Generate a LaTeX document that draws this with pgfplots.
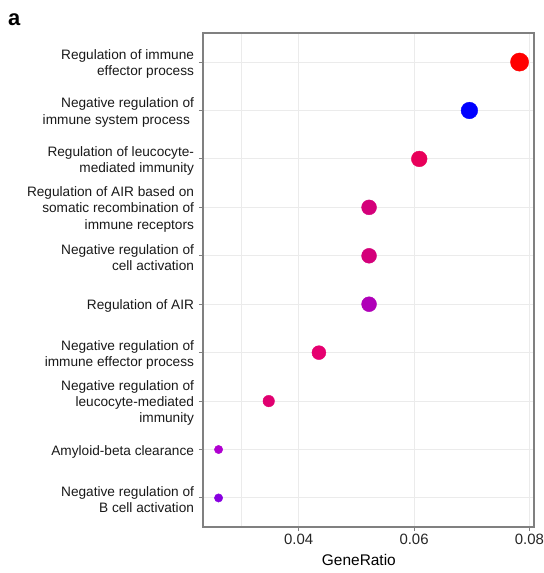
\documentclass[border=0pt]{standalone}
\usepackage{pgfplots}
\pgfplotsset{compat=1.18}
\usepackage{fontspec}
\setmainfont{Liberation Sans}
\definecolor{gridc}{RGB}{235,235,235}
\definecolor{framec}{RGB}{128,128,128}
\begin{document}
\begin{tikzpicture}
\path[use as bounding box] (-203bp,-46bp) rectangle (341bp,527bp);
\node[anchor=base west, font=\fontsize{22}{24}\selectfont\bfseries, inner sep=0pt] at (-195bp,501bp) {a};
\begin{axis}[
  at={(0,0)}, anchor=south west,
  scale only axis, width=331bp, height=494bp,
  xmin=0.0234, xmax=0.0808, ymin=0.4, ymax=10.6,
  y dir=reverse,
  scaled x ticks=false,
  xtick={0.04,0.06,0.08}, xticklabels={0.04,0.06,0.08},
  minor xtick={0.03},
  ytick={1,2,3,4,5,6,7,8,9,10},
  yticklabels={
    {Regulation of immune\\effector process},
    {Negative regulation of\\immune system process\hspace*{0.3em}},
    {Regulation of leucocyte-\\mediated immunity},
    {Regulation of AIR based on\\somatic recombination of\\immune receptors},
    {Negative regulation of\\cell activation},
    {Regulation of AIR},
    {Negative regulation of\\immune effector process},
    {Negative regulation of\\leucocyte-mediated\\immunity},
    {Amyloid-beta clearance},
    {Negative regulation of\\B cell activation}},
  yticklabel style={align=right, font=\fontsize{13.7}{16.4}\selectfont, text=black!90, xshift=-1.5bp, yshift=-2bp},
  xticklabel style={font=\fontsize{15}{18}\selectfont, text=black!85},
  xlabel={GeneRatio},
  xlabel style={font=\fontsize{15.5}{18}\selectfont, at={(axis description cs:0.471,0)}, anchor=base, yshift=-38.7bp},
  grid=both,
  major grid style={gridc, line width=1pt},
  minor grid style={gridc, line width=1pt},
  axis line style={framec, line width=1.1pt},
  tick style={framec, line width=1pt},
  major tick length=4bp, minor tick length=0pt,
  tick align=outside,
  xtick pos=lower, ytick pos=left,
]
\addplot[only marks, mark=*, scatter,
  visualization depends on={value \thisrow{r} \as \rad},
  visualization depends on={value \thisrow{R} \as \cR},
  visualization depends on={value \thisrow{G} \as \cG},
  visualization depends on={value \thisrow{B} \as \cB},
  scatter/@pre marker code/.code={%
    \definecolor{mc}{RGB}{\cR,\cG,\cB}%
    \scope[mark size=\rad pt]%
    \pgfsetfillcolor{mc}\pgfsetstrokecolor{mc}%
  },
  scatter/@post marker code/.code={\endscope},
] table[x=x, y=y] {
x y r R G B
0.0783 1 9.15 255 0 0
0.0696 2 8.35 0 0 255
0.0609 3 7.9 232 0 90
0.0522 4 7.5 212 0 122
0.0522 5 7.5 212 0 122
0.0522 6 7.5 176 0 184
0.0435 7 7.0 230 0 112
0.0348 8 5.8 224 0 112
0.0261 9 4.2 176 0 208
0.0261 10 4.2 136 0 224
};
\end{axis}
\end{tikzpicture}
\end{document}
